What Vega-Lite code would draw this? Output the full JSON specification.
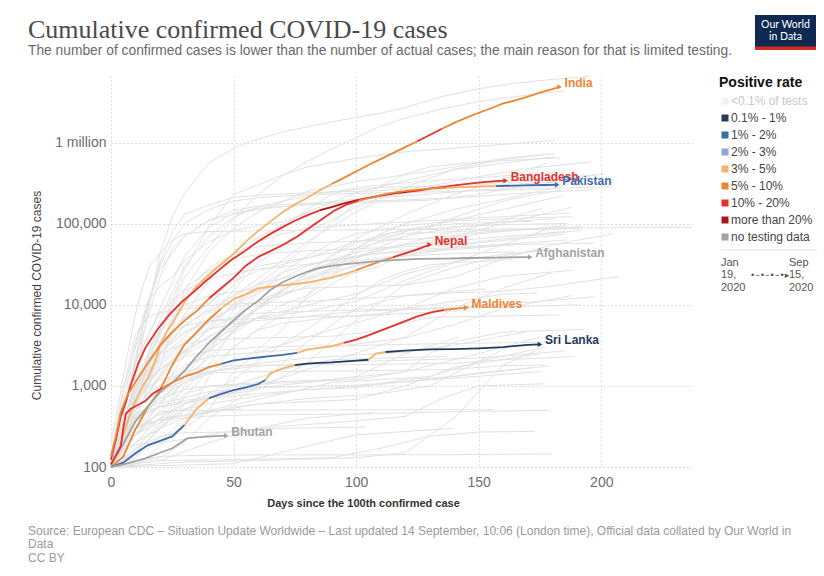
{
"$schema":"https://vega.github.io/schema/vega-lite/v6.json",
"width":581,"height":391,
"autosize":{"type":"none"},
"padding":{"left":111,"top":76,"right":132,"bottom":109},
"background":"white",
"config":{
 "font":"Liberation Sans",
 "view":{"stroke":null},
 "axis":{"domain":false,"ticks":false,"grid":true,"gridColor":"#d2d2d2","gridDash":[1.5,2.5],"gridWidth":1,"labelFont":"Liberation Sans","labelFontSize":14,"labelColor":"#6e6e6e","titleFont":"Liberation Sans"},
 "legend":{"orient":"right","offset":25,"padding":0,"titleFont":"Liberation Sans","titleFontSize":14,"titleFontWeight":"bold","titleColor":"#111","titlePadding":5,"labelFont":"Liberation Sans","labelFontSize":12,"labelColor":"#444","symbolType":"square","symbolSize":49,"rowPadding":5,"labelOffset":0}
},
"datasets":{
"bg":[
{"s":"US","d":0,"v":100},{"s":"US","d":5,"v":220},{"s":"US","d":10,"v":1300},{"s":"US","d":15,"v":8000},{"s":"US","d":20,"v":43000},{"s":"US","d":25,"v":120000},{"s":"US","d":30,"v":240000},{"s":"US","d":40,"v":560000},{"s":"US","d":50,"v":850000},{"s":"US","d":57,"v":1040000},{"s":"US","d":70,"v":1350000},{"s":"US","d":90,"v":1800000},{"s":"US","d":110,"v":2300000},{"s":"US","d":120,"v":2700000},{"s":"US","d":135,"v":3700000},{"s":"US","d":150,"v":4600000},{"s":"US","d":165,"v":5400000},{"s":"US","d":180,"v":6000000},{"s":"US","d":195,"v":6550000},
{"s":"BR","d":0,"v":100},{"s":"BR","d":10,"v":900},{"s":"BR","d":20,"v":4300},{"s":"BR","d":30,"v":22000},{"s":"BR","d":40,"v":52000},{"s":"BR","d":50,"v":115000},{"s":"BR","d":60,"v":230000},{"s":"BR","d":70,"v":390000},{"s":"BR","d":80,"v":580000},{"s":"BR","d":90,"v":830000},{"s":"BR","d":100,"v":1150000},{"s":"BR","d":110,"v":1600000},{"s":"BR","d":120,"v":2000000},{"s":"BR","d":135,"v":2600000},{"s":"BR","d":150,"v":3200000},{"s":"BR","d":165,"v":3700000},{"s":"BR","d":185,"v":4330000},
{"s":"RU","d":0,"v":100},{"s":"RU","d":10,"v":660},{"s":"RU","d":20,"v":4700},{"s":"RU","d":30,"v":27000},{"s":"RU","d":40,"v":93000},{"s":"RU","d":50,"v":230000},{"s":"RU","d":60,"v":300000},{"s":"RU","d":70,"v":400000},{"s":"RU","d":80,"v":500000},{"s":"RU","d":100,"v":640000},{"s":"RU","d":120,"v":770000},{"s":"RU","d":150,"v":900000},{"s":"RU","d":181,"v":1060000},
{"s":"PE","d":0,"v":100},{"s":"PE","d":10,"v":580},{"s":"PE","d":20,"v":1700},{"s":"PE","d":30,"v":15000},{"s":"PE","d":40,"v":45000},{"s":"PE","d":50,"v":88000},{"s":"PE","d":60,"v":140000},{"s":"PE","d":80,"v":250000},{"s":"PE","d":100,"v":330000},{"s":"PE","d":120,"v":400000},{"s":"PE","d":140,"v":500000},{"s":"PE","d":160,"v":640000},{"s":"PE","d":181,"v":730000},
{"s":"CO","d":0,"v":100},{"s":"CO","d":10,"v":700},{"s":"CO","d":20,"v":2200},{"s":"CO","d":30,"v":4000},{"s":"CO","d":40,"v":8000},{"s":"CO","d":60,"v":21000},{"s":"CO","d":80,"v":60000},{"s":"CO","d":100,"v":140000},{"s":"CO","d":120,"v":280000},{"s":"CO","d":140,"v":470000},{"s":"CO","d":160,"v":620000},{"s":"CO","d":179,"v":720000},
{"s":"MX","d":0,"v":100},{"s":"MX","d":10,"v":580},{"s":"MX","d":20,"v":2400},{"s":"MX","d":30,"v":7500},{"s":"MX","d":40,"v":20000},{"s":"MX","d":50,"v":45000},{"s":"MX","d":60,"v":68000},{"s":"MX","d":80,"v":140000},{"s":"MX","d":100,"v":240000},{"s":"MX","d":120,"v":340000},{"s":"MX","d":140,"v":460000},{"s":"MX","d":160,"v":560000},{"s":"MX","d":181,"v":670000},
{"s":"ZA","d":0,"v":100},{"s":"ZA","d":10,"v":900},{"s":"ZA","d":20,"v":1600},{"s":"ZA","d":30,"v":2700},{"s":"ZA","d":40,"v":5000},{"s":"ZA","d":50,"v":10000},{"s":"ZA","d":60,"v":18000},{"s":"ZA","d":70,"v":30000},{"s":"ZA","d":80,"v":55000},{"s":"ZA","d":90,"v":100000},{"s":"ZA","d":100,"v":180000},{"s":"ZA","d":110,"v":290000},{"s":"ZA","d":120,"v":410000},{"s":"ZA","d":130,"v":500000},{"s":"ZA","d":140,"v":540000},{"s":"ZA","d":160,"v":600000},{"s":"ZA","d":183,"v":650000},
{"s":"ES","d":0,"v":100},{"s":"ES","d":10,"v":2300},{"s":"ES","d":15,"v":10000},{"s":"ES","d":20,"v":33000},{"s":"ES","d":25,"v":80000},{"s":"ES","d":30,"v":130000},{"s":"ES","d":40,"v":170000},{"s":"ES","d":50,"v":210000},{"s":"ES","d":60,"v":225000},{"s":"ES","d":80,"v":240000},{"s":"ES","d":110,"v":255000},{"s":"ES","d":130,"v":290000},{"s":"ES","d":150,"v":380000},{"s":"ES","d":170,"v":480000},{"s":"ES","d":196,"v":580000},
{"s":"AR","d":0,"v":100},{"s":"AR","d":10,"v":700},{"s":"AR","d":20,"v":1600},{"s":"AR","d":30,"v":2600},{"s":"AR","d":40,"v":4000},{"s":"AR","d":60,"v":9000},{"s":"AR","d":80,"v":25000},{"s":"AR","d":100,"v":65000},{"s":"AR","d":120,"v":130000},{"s":"AR","d":140,"v":230000},{"s":"AR","d":160,"v":350000},{"s":"AR","d":178,"v":560000},
{"s":"CL","d":0,"v":100},{"s":"CL","d":10,"v":1000},{"s":"CL","d":20,"v":3000},{"s":"CL","d":30,"v":6500},{"s":"CL","d":40,"v":10500},{"s":"CL","d":50,"v":17000},{"s":"CL","d":60,"v":40000},{"s":"CL","d":70,"v":90000},{"s":"CL","d":80,"v":150000},{"s":"CL","d":90,"v":230000},{"s":"CL","d":100,"v":280000},{"s":"CL","d":120,"v":320000},{"s":"CL","d":150,"v":370000},{"s":"CL","d":182,"v":430000},
{"s":"IR","d":0,"v":140},{"s":"IR","d":5,"v":600},{"s":"IR","d":10,"v":3500},{"s":"IR","d":15,"v":11000},{"s":"IR","d":20,"v":17000},{"s":"IR","d":25,"v":22000},{"s":"IR","d":30,"v":35000},{"s":"IR","d":40,"v":60000},{"s":"IR","d":50,"v":82000},{"s":"IR","d":60,"v":95000},{"s":"IR","d":70,"v":105000},{"s":"IR","d":80,"v":135000},{"s":"IR","d":90,"v":165000},{"s":"IR","d":100,"v":190000},{"s":"IR","d":120,"v":240000},{"s":"IR","d":140,"v":280000},{"s":"IR","d":160,"v":330000},{"s":"IR","d":180,"v":370000},{"s":"IR","d":201,"v":405000},
{"s":"GB","d":0,"v":100},{"s":"GB","d":10,"v":800},{"s":"GB","d":20,"v":6600},{"s":"GB","d":30,"v":30000},{"s":"GB","d":40,"v":70000},{"s":"GB","d":50,"v":120000},{"s":"GB","d":60,"v":160000},{"s":"GB","d":70,"v":190000},{"s":"GB","d":90,"v":250000},{"s":"GB","d":110,"v":280000},{"s":"GB","d":130,"v":290000},{"s":"GB","d":150,"v":310000},{"s":"GB","d":170,"v":330000},{"s":"GB","d":193,"v":370000},
{"s":"SA","d":0,"v":100},{"s":"SA","d":10,"v":600},{"s":"SA","d":20,"v":1800},{"s":"SA","d":30,"v":3300},{"s":"SA","d":40,"v":7000},{"s":"SA","d":50,"v":15000},{"s":"SA","d":60,"v":33000},{"s":"SA","d":70,"v":52000},{"s":"SA","d":80,"v":80000},{"s":"SA","d":90,"v":110000},{"s":"SA","d":100,"v":160000},{"s":"SA","d":110,"v":210000},{"s":"SA","d":130,"v":260000},{"s":"SA","d":150,"v":295000},{"s":"SA","d":183,"v":325000},
{"s":"FR","d":0,"v":100},{"s":"FR","d":10,"v":1800},{"s":"FR","d":20,"v":9000},{"s":"FR","d":30,"v":40000},{"s":"FR","d":40,"v":90000},{"s":"FR","d":50,"v":135000},{"s":"FR","d":60,"v":155000},{"s":"FR","d":80,"v":170000},{"s":"FR","d":100,"v":180000},{"s":"FR","d":130,"v":195000},{"s":"FR","d":150,"v":230000},{"s":"FR","d":170,"v":300000},{"s":"FR","d":198,"v":400000},
{"s":"TR","d":0,"v":100},{"s":"TR","d":10,"v":2000},{"s":"TR","d":15,"v":10000},{"s":"TR","d":20,"v":27000},{"s":"TR","d":30,"v":70000},{"s":"TR","d":40,"v":110000},{"s":"TR","d":50,"v":130000},{"s":"TR","d":60,"v":150000},{"s":"TR","d":80,"v":175000},{"s":"TR","d":100,"v":200000},{"s":"TR","d":120,"v":220000},{"s":"TR","d":150,"v":260000},{"s":"TR","d":180,"v":290000},
{"s":"IT","d":0,"v":150},{"s":"IT","d":5,"v":900},{"s":"IT","d":10,"v":3000},{"s":"IT","d":15,"v":10000},{"s":"IT","d":20,"v":30000},{"s":"IT","d":25,"v":60000},{"s":"IT","d":30,"v":100000},{"s":"IT","d":40,"v":150000},{"s":"IT","d":50,"v":190000},{"s":"IT","d":60,"v":210000},{"s":"IT","d":80,"v":228000},{"s":"IT","d":110,"v":240000},{"s":"IT","d":140,"v":250000},{"s":"IT","d":170,"v":265000},{"s":"IT","d":204,"v":287000},
{"s":"DE","d":0,"v":130},{"s":"DE","d":10,"v":2000},{"s":"DE","d":15,"v":7000},{"s":"DE","d":20,"v":22000},{"s":"DE","d":25,"v":50000},{"s":"DE","d":30,"v":70000},{"s":"DE","d":40,"v":110000},{"s":"DE","d":50,"v":145000},{"s":"DE","d":60,"v":165000},{"s":"DE","d":80,"v":178000},{"s":"DE","d":110,"v":192000},{"s":"DE","d":140,"v":208000},{"s":"DE","d":170,"v":240000},{"s":"DE","d":197,"v":262000},
{"s":"IQ","d":0,"v":100},{"s":"IQ","d":10,"v":250},{"s":"IQ","d":20,"v":600},{"s":"IQ","d":30,"v":1100},{"s":"IQ","d":40,"v":1400},{"s":"IQ","d":50,"v":1900},{"s":"IQ","d":60,"v":2800},{"s":"IQ","d":70,"v":5000},{"s":"IQ","d":80,"v":13000},{"s":"IQ","d":90,"v":30000},{"s":"IQ","d":100,"v":50000},{"s":"IQ","d":110,"v":75000},{"s":"IQ","d":120,"v":100000},{"s":"IQ","d":140,"v":150000},{"s":"IQ","d":160,"v":200000},{"s":"IQ","d":184,"v":290000},
{"s":"PH","d":0,"v":100},{"s":"PH","d":10,"v":380},{"s":"PH","d":20,"v":2600},{"s":"PH","d":30,"v":4600},{"s":"PH","d":40,"v":6600},{"s":"PH","d":50,"v":9000},{"s":"PH","d":60,"v":11000},{"s":"PH","d":70,"v":13000},{"s":"PH","d":80,"v":20000},{"s":"PH","d":90,"v":27000},{"s":"PH","d":100,"v":37000},{"s":"PH","d":110,"v":52000},{"s":"PH","d":120,"v":70000},{"s":"PH","d":130,"v":90000},{"s":"PH","d":140,"v":120000},{"s":"PH","d":150,"v":150000},{"s":"PH","d":160,"v":190000},{"s":"PH","d":170,"v":220000},{"s":"PH","d":184,"v":260000},
{"s":"ID","d":0,"v":100},{"s":"ID","d":10,"v":450},{"s":"ID","d":20,"v":1300},{"s":"ID","d":30,"v":3300},{"s":"ID","d":40,"v":6000},{"s":"ID","d":50,"v":9500},{"s":"ID","d":60,"v":14000},{"s":"ID","d":70,"v":19000},{"s":"ID","d":80,"v":26000},{"s":"ID","d":90,"v":33000},{"s":"ID","d":100,"v":45000},{"s":"ID","d":110,"v":62000},{"s":"ID","d":120,"v":80000},{"s":"ID","d":140,"v":110000},{"s":"ID","d":160,"v":150000},{"s":"ID","d":184,"v":220000},
{"s":"CA","d":0,"v":100},{"s":"CA","d":10,"v":900},{"s":"CA","d":20,"v":5000},{"s":"CA","d":30,"v":12000},{"s":"CA","d":40,"v":25000},{"s":"CA","d":50,"v":42000},{"s":"CA","d":60,"v":60000},{"s":"CA","d":70,"v":75000},{"s":"CA","d":80,"v":88000},{"s":"CA","d":100,"v":97000},{"s":"CA","d":120,"v":105000},{"s":"CA","d":150,"v":118000},{"s":"CA","d":187,"v":135000},
{"s":"QA","d":0,"v":100},{"s":"QA","d":10,"v":450},{"s":"QA","d":20,"v":630},{"s":"QA","d":30,"v":1300},{"s":"QA","d":40,"v":3000},{"s":"QA","d":50,"v":7000},{"s":"QA","d":60,"v":14000},{"s":"QA","d":70,"v":25000},{"s":"QA","d":80,"v":40000},{"s":"QA","d":90,"v":58000},{"s":"QA","d":100,"v":75000},{"s":"QA","d":120,"v":95000},{"s":"QA","d":140,"v":108000},{"s":"QA","d":160,"v":115000},{"s":"QA","d":188,"v":122000},
{"s":"EG","d":0,"v":100},{"s":"EG","d":10,"v":400},{"s":"EG","d":20,"v":800},{"s":"EG","d":30,"v":1700},{"s":"EG","d":40,"v":2700},{"s":"EG","d":50,"v":4800},{"s":"EG","d":60,"v":9000},{"s":"EG","d":70,"v":15000},{"s":"EG","d":80,"v":25000},{"s":"EG","d":90,"v":40000},{"s":"EG","d":100,"v":58000},{"s":"EG","d":110,"v":73000},{"s":"EG","d":120,"v":82000},{"s":"EG","d":140,"v":92000},{"s":"EG","d":160,"v":97000},{"s":"EG","d":186,"v":101000},
{"s":"CN","d":0,"v":200},{"s":"CN","d":3,"v":570},{"s":"CN","d":5,"v":1300},{"s":"CN","d":7,"v":2700},{"s":"CN","d":10,"v":7700},{"s":"CN","d":13,"v":17000},{"s":"CN","d":16,"v":31000},{"s":"CN","d":20,"v":43000},{"s":"CN","d":25,"v":63000},{"s":"CN","d":30,"v":75000},{"s":"CN","d":35,"v":78000},{"s":"CN","d":40,"v":80000},{"s":"CN","d":50,"v":81000},{"s":"CN","d":60,"v":81500},{"s":"CN","d":80,"v":82800},{"s":"CN","d":100,"v":84000},{"s":"CN","d":120,"v":84500},{"s":"CN","d":150,"v":85500},{"s":"CN","d":180,"v":87500},{"s":"CN","d":210,"v":89500},{"s":"CN","d":237,"v":90000},
{"s":"JP","d":0,"v":105},{"s":"JP","d":10,"v":250},{"s":"JP","d":20,"v":500},{"s":"JP","d":30,"v":900},{"s":"JP","d":40,"v":1800},{"s":"JP","d":50,"v":5000},{"s":"JP","d":60,"v":10000},{"s":"JP","d":70,"v":14000},{"s":"JP","d":80,"v":16000},{"s":"JP","d":100,"v":16800},{"s":"JP","d":120,"v":17500},{"s":"JP","d":140,"v":22000},{"s":"JP","d":160,"v":37000},{"s":"JP","d":180,"v":55000},{"s":"JP","d":205,"v":75000},
{"s":"KR","d":0,"v":100},{"s":"KR","d":5,"v":900},{"s":"KR","d":10,"v":4300},{"s":"KR","d":15,"v":7000},{"s":"KR","d":20,"v":8000},{"s":"KR","d":30,"v":8900},{"s":"KR","d":40,"v":9800},{"s":"KR","d":60,"v":10600},{"s":"KR","d":80,"v":11000},{"s":"KR","d":100,"v":11900},{"s":"KR","d":120,"v":12900},{"s":"KR","d":140,"v":14000},{"s":"KR","d":160,"v":14700},{"s":"KR","d":180,"v":17000},{"s":"KR","d":207,"v":22300},
{"s":"SG","d":0,"v":100},{"s":"SG","d":10,"v":170},{"s":"SG","d":20,"v":350},{"s":"SG","d":30,"v":1000},{"s":"SG","d":40,"v":2500},{"s":"SG","d":50,"v":9000},{"s":"SG","d":60,"v":17000},{"s":"SG","d":70,"v":25000},{"s":"SG","d":80,"v":31000},{"s":"SG","d":90,"v":35000},{"s":"SG","d":100,"v":39000},{"s":"SG","d":110,"v":43000},{"s":"SG","d":130,"v":47000},{"s":"SG","d":160,"v":55000},{"s":"SG","d":197,"v":57400},
{"s":"MY","d":0,"v":100},{"s":"MY","d":10,"v":700},{"s":"MY","d":20,"v":2000},{"s":"MY","d":30,"v":3500},{"s":"MY","d":40,"v":5000},{"s":"MY","d":50,"v":5800},{"s":"MY","d":60,"v":6400},{"s":"MY","d":80,"v":7200},{"s":"MY","d":100,"v":8300},{"s":"MY","d":120,"v":8700},{"s":"MY","d":150,"v":9200},{"s":"MY","d":191,"v":10000},
{"s":"AU","d":0,"v":100},{"s":"AU","d":10,"v":700},{"s":"AU","d":20,"v":3600},{"s":"AU","d":30,"v":5500},{"s":"AU","d":40,"v":6300},{"s":"AU","d":60,"v":6800},{"s":"AU","d":80,"v":7100},{"s":"AU","d":100,"v":7300},{"s":"AU","d":110,"v":7800},{"s":"AU","d":120,"v":9000},{"s":"AU","d":130,"v":12000},{"s":"AU","d":140,"v":16000},{"s":"AU","d":150,"v":19000},{"s":"AU","d":160,"v":22500},{"s":"AU","d":188,"v":26600},
{"s":"TH","d":0,"v":114},{"s":"TH","d":10,"v":700},{"s":"TH","d":20,"v":1600},{"s":"TH","d":30,"v":2300},{"s":"TH","d":40,"v":2700},{"s":"TH","d":60,"v":3000},{"s":"TH","d":80,"v":3100},{"s":"TH","d":100,"v":3150},{"s":"TH","d":130,"v":3300},{"s":"TH","d":160,"v":3400},{"s":"TH","d":183,"v":3480},
{"s":"VN","d":0,"v":100},{"s":"VN","d":10,"v":170},{"s":"VN","d":20,"v":240},{"s":"VN","d":30,"v":265},{"s":"VN","d":50,"v":270},{"s":"VN","d":70,"v":320},{"s":"VN","d":90,"v":350},{"s":"VN","d":120,"v":420},{"s":"VN","d":135,"v":700},{"s":"VN","d":150,"v":1000},{"s":"VN","d":177,"v":1060},
{"s":"NZ","d":0,"v":100},{"s":"NZ","d":5,"v":280},{"s":"NZ","d":10,"v":600},{"s":"NZ","d":15,"v":950},{"s":"NZ","d":20,"v":1200},{"s":"NZ","d":30,"v":1400},{"s":"NZ","d":40,"v":1450},{"s":"NZ","d":60,"v":1500},{"s":"NZ","d":100,"v":1530},{"s":"NZ","d":140,"v":1600},{"s":"NZ","d":160,"v":1780},{"s":"NZ","d":177,"v":1800},
{"s":"TW","d":0,"v":100},{"s":"TW","d":5,"v":200},{"s":"TW","d":10,"v":300},{"s":"TW","d":15,"v":350},{"s":"TW","d":20,"v":380},{"s":"TW","d":30,"v":400},{"s":"TW","d":40,"v":425},{"s":"TW","d":60,"v":440},{"s":"TW","d":100,"v":450},{"s":"TW","d":140,"v":480},{"s":"TW","d":179,"v":500},
{"s":"MN","d":0,"v":100},{"s":"MN","d":5,"v":180},{"s":"MN","d":10,"v":190},{"s":"MN","d":20,"v":200},{"s":"MN","d":30,"v":220},{"s":"MN","d":50,"v":280},{"s":"MN","d":70,"v":300},{"s":"MN","d":104,"v":311},
{"s":"KH","d":0,"v":100},{"s":"KH","d":10,"v":110},{"s":"KH","d":20,"v":120},{"s":"KH","d":40,"v":122},{"s":"KH","d":60,"v":125},{"s":"KH","d":90,"v":130},{"s":"KH","d":110,"v":170},{"s":"KH","d":130,"v":240},{"s":"KH","d":150,"v":270},{"s":"KH","d":173,"v":275},
{"s":"PG","d":0,"v":100},{"s":"PG","d":10,"v":200},{"s":"PG","d":20,"v":300},{"s":"PG","d":30,"v":400},{"s":"PG","d":40,"v":480},{"s":"PG","d":53,"v":520},
{"s":"UG","d":0,"v":100},{"s":"UG","d":10,"v":150},{"s":"UG","d":20,"v":300},{"s":"UG","d":30,"v":600},{"s":"UG","d":40,"v":800},{"s":"UG","d":60,"v":950},{"s":"UG","d":80,"v":1100},{"s":"UG","d":100,"v":1300},{"s":"UG","d":120,"v":2500},{"s":"UG","d":142,"v":4000},
{"s":"KE","d":0,"v":100},{"s":"KE","d":10,"v":200},{"s":"KE","d":20,"v":300},{"s":"KE","d":30,"v":500},{"s":"KE","d":40,"v":800},{"s":"KE","d":50,"v":1200},{"s":"KE","d":60,"v":2000},{"s":"KE","d":70,"v":3300},{"s":"KE","d":80,"v":5000},{"s":"KE","d":90,"v":8000},{"s":"KE","d":100,"v":13000},{"s":"KE","d":110,"v":20000},{"s":"KE","d":120,"v":26000},{"s":"KE","d":130,"v":31000},{"s":"KE","d":140,"v":33000},{"s":"KE","d":164,"v":36000},
{"s":"NG","d":0,"v":100},{"s":"NG","d":10,"v":250},{"s":"NG","d":20,"v":600},{"s":"NG","d":30,"v":1500},{"s":"NG","d":40,"v":3000},{"s":"NG","d":50,"v":5500},{"s":"NG","d":60,"v":9000},{"s":"NG","d":70,"v":13000},{"s":"NG","d":80,"v":17000},{"s":"NG","d":90,"v":24000},{"s":"NG","d":100,"v":30000},{"s":"NG","d":110,"v":36000},{"s":"NG","d":120,"v":42000},{"s":"NG","d":140,"v":48000},{"s":"NG","d":168,"v":56000},
{"s":"GH","d":0,"v":150},{"s":"GH","d":10,"v":500},{"s":"GH","d":20,"v":1400},{"s":"GH","d":30,"v":2700},{"s":"GH","d":40,"v":5000},{"s":"GH","d":50,"v":7000},{"s":"GH","d":60,"v":11000},{"s":"GH","d":70,"v":15000},{"s":"GH","d":80,"v":22000},{"s":"GH","d":90,"v":28000},{"s":"GH","d":100,"v":35000},{"s":"GH","d":120,"v":40000},{"s":"GH","d":140,"v":43000},{"s":"GH","d":165,"v":45000},
{"s":"SN","d":0,"v":100},{"s":"SN","d":20,"v":230},{"s":"SN","d":30,"v":300},{"s":"SN","d":40,"v":500},{"s":"SN","d":50,"v":1500},{"s":"SN","d":60,"v":2600},{"s":"SN","d":80,"v":4000},{"s":"SN","d":100,"v":6000},{"s":"SN","d":120,"v":9000},{"s":"SN","d":140,"v":11000},{"s":"SN","d":160,"v":13500},{"s":"SN","d":174,"v":14000},
{"s":"TZ","d":0,"v":100},{"s":"TZ","d":10,"v":250},{"s":"TZ","d":20,"v":480},{"s":"TZ","d":30,"v":500},{"s":"TZ","d":156,"v":510},
{"s":"IS","d":0,"v":100},{"s":"IS","d":5,"v":200},{"s":"IS","d":10,"v":500},{"s":"IS","d":20,"v":1000},{"s":"IS","d":30,"v":1500},{"s":"IS","d":40,"v":1750},{"s":"IS","d":60,"v":1800},{"s":"IS","d":100,"v":1830},{"s":"IS","d":140,"v":1900},{"s":"IS","d":160,"v":2100},{"s":"IS","d":189,"v":2300},
{"s":"LU","d":0,"v":100},{"s":"LU","d":10,"v":1000},{"s":"LU","d":20,"v":2500},{"s":"LU","d":30,"v":3300},{"s":"LU","d":40,"v":3700},{"s":"LU","d":60,"v":3900},{"s":"LU","d":90,"v":4100},{"s":"LU","d":110,"v":4800},{"s":"LU","d":120,"v":6000},{"s":"LU","d":130,"v":7000},{"s":"LU","d":183,"v":7500},
{"s":"EE","d":0,"v":100},{"s":"EE","d":10,"v":350},{"s":"EE","d":20,"v":700},{"s":"EE","d":30,"v":1100},{"s":"EE","d":40,"v":1500},{"s":"EE","d":60,"v":1750},{"s":"EE","d":100,"v":2000},{"s":"EE","d":150,"v":2200},{"s":"EE","d":185,"v":2700},
{"s":"JM","d":0,"v":100},{"s":"JM","d":20,"v":200},{"s":"JM","d":30,"v":400},{"s":"JM","d":50,"v":550},{"s":"JM","d":80,"v":700},{"s":"JM","d":110,"v":800},{"s":"JM","d":130,"v":1000},{"s":"JM","d":150,"v":2000},{"s":"JM","d":162,"v":3000},
{"s":"MG","d":0,"v":100},{"s":"MG","d":20,"v":130},{"s":"MG","d":30,"v":200},{"s":"MG","d":40,"v":400},{"s":"MG","d":60,"v":1000},{"s":"MG","d":80,"v":3500},{"s":"MG","d":100,"v":9000},{"s":"MG","d":120,"v":13000},{"s":"MG","d":153,"v":15700},
{"s":"BI","d":0,"v":100},{"s":"BI","d":20,"v":120},{"s":"BI","d":40,"v":200},{"s":"BI","d":60,"v":300},{"s":"BI","d":80,"v":400},{"s":"BI","d":107,"v":470},
{"s":"BJ","d":0,"v":100},{"s":"BJ","d":10,"v":250},{"s":"BJ","d":30,"v":500},{"s":"BJ","d":50,"v":1000},{"s":"BJ","d":70,"v":1600},{"s":"BJ","d":90,"v":2100},{"s":"BJ","d":110,"v":2200},{"s":"BJ","d":137,"v":2300},
{"s":"TT","d":0,"v":100},{"s":"TT","d":30,"v":115},{"s":"TT","d":60,"v":120},{"s":"TT","d":100,"v":130},{"s":"TT","d":120,"v":150},{"s":"TT","d":140,"v":400},{"s":"TT","d":160,"v":1800},{"s":"TT","d":173,"v":2700},
{"s":"BN","d":0,"v":100},{"s":"BN","d":10,"v":120},{"s":"BN","d":20,"v":135},{"s":"BN","d":30,"v":138},{"s":"BN","d":60,"v":141},{"s":"BN","d":100,"v":141},{"s":"BN","d":140,"v":142},{"s":"BN","d":180,"v":145},
{"s":"ER","d":0,"v":100},{"s":"ER","d":50,"v":110},{"s":"ER","d":100,"v":250},{"s":"ER","d":140,"v":300},
{"s":"CU","d":0,"v":100},{"s":"CU","d":10,"v":400},{"s":"CU","d":20,"v":800},{"s":"CU","d":30,"v":1200},{"s":"CU","d":40,"v":1500},{"s":"CU","d":60,"v":1900},{"s":"CU","d":80,"v":2200},{"s":"CU","d":100,"v":2400},{"s":"CU","d":120,"v":2600},{"s":"CU","d":140,"v":3200},{"s":"CU","d":169,"v":4600},
{"s":"UY","d":0,"v":100},{"s":"UY","d":10,"v":300},{"s":"UY","d":20,"v":450},{"s":"UY","d":40,"v":600},{"s":"UY","d":60,"v":750},{"s":"UY","d":80,"v":900},{"s":"UY","d":100,"v":980},{"s":"UY","d":130,"v":1200},{"s":"UY","d":150,"v":1450},{"s":"UY","d":179,"v":1750},
{"s":"NO","d":0,"v":100},{"s":"NO","d":10,"v":1200},{"s":"NO","d":20,"v":2600},{"s":"NO","d":30,"v":4500},{"s":"NO","d":40,"v":6200},{"s":"NO","d":60,"v":7900},{"s":"NO","d":90,"v":8500},{"s":"NO","d":120,"v":8900},{"s":"NO","d":150,"v":9600},{"s":"NO","d":197,"v":12500},
{"s":"GR","d":0,"v":100},{"s":"GR","d":10,"v":500},{"s":"GR","d":20,"v":1000},{"s":"GR","d":30,"v":1800},{"s":"GR","d":40,"v":2300},{"s":"GR","d":60,"v":2600},{"s":"GR","d":90,"v":3000},{"s":"GR","d":120,"v":3900},{"s":"GR","d":140,"v":5700},{"s":"GR","d":160,"v":9000},{"s":"GR","d":188,"v":13000},
{"s":"IL","d":0,"v":100},{"s":"IL","d":10,"v":700},{"s":"IL","d":20,"v":4600},{"s":"IL","d":30,"v":9900},{"s":"IL","d":40,"v":13000},{"s":"IL","d":60,"v":16000},{"s":"IL","d":90,"v":21000},{"s":"IL","d":110,"v":30000},{"s":"IL","d":120,"v":45000},{"s":"IL","d":140,"v":70000},{"s":"IL","d":160,"v":100000},{"s":"IL","d":188,"v":160000},
{"s":"EC","d":0,"v":100},{"s":"EC","d":10,"v":1000},{"s":"EC","d":20,"v":3300},{"s":"EC","d":30,"v":7000},{"s":"EC","d":40,"v":10000},{"s":"EC","d":50,"v":22000},{"s":"EC","d":60,"v":30000},{"s":"EC","d":80,"v":38000},{"s":"EC","d":100,"v":50000},{"s":"EC","d":120,"v":70000},{"s":"EC","d":140,"v":90000},{"s":"EC","d":160,"v":105000},{"s":"EC","d":181,"v":115000},
{"s":"KZ","d":0,"v":100},{"s":"KZ","d":10,"v":400},{"s":"KZ","d":20,"v":800},{"s":"KZ","d":30,"v":1600},{"s":"KZ","d":40,"v":2800},{"s":"KZ","d":50,"v":4500},{"s":"KZ","d":60,"v":7000},{"s":"KZ","d":70,"v":10000},{"s":"KZ","d":80,"v":13000},{"s":"KZ","d":90,"v":22000},{"s":"KZ","d":100,"v":50000},{"s":"KZ","d":110,"v":70000},{"s":"KZ","d":120,"v":85000},{"s":"KZ","d":140,"v":100000},{"s":"KZ","d":172,"v":107000},
{"s":"BE","d":0,"v":100},{"s":"BE","d":10,"v":900},{"s":"BE","d":20,"v":3400},{"s":"BE","d":30,"v":13000},{"s":"BE","d":40,"v":29000},{"s":"BE","d":50,"v":42000},{"s":"BE","d":60,"v":52000},{"s":"BE","d":80,"v":58000},{"s":"BE","d":100,"v":61000},{"s":"BE","d":130,"v":66000},{"s":"BE","d":150,"v":78000},{"s":"BE","d":170,"v":85000},{"s":"BE","d":192,"v":92000},
{"s":"NL","d":0,"v":100},{"s":"NL","d":10,"v":1100},{"s":"NL","d":20,"v":5500},{"s":"NL","d":30,"v":15800},{"s":"NL","d":40,"v":26500},{"s":"NL","d":50,"v":36500},{"s":"NL","d":60,"v":42000},{"s":"NL","d":80,"v":46500},{"s":"NL","d":110,"v":50500},{"s":"NL","d":140,"v":55000},{"s":"NL","d":160,"v":65000},{"s":"NL","d":192,"v":83000},
{"s":"SE","d":0,"v":100},{"s":"SE","d":10,"v":1100},{"s":"SE","d":20,"v":2800},{"s":"SE","d":30,"v":6800},{"s":"SE","d":40,"v":12500},{"s":"SE","d":50,"v":19600},{"s":"SE","d":60,"v":26300},{"s":"SE","d":80,"v":37500},{"s":"SE","d":100,"v":60000},{"s":"SE","d":120,"v":76000},{"s":"SE","d":150,"v":82000},{"s":"SE","d":191,"v":87000},
{"s":"PT","d":0,"v":100},{"s":"PT","d":10,"v":2000},{"s":"PT","d":20,"v":8200},{"s":"PT","d":30,"v":15000},{"s":"PT","d":40,"v":20800},{"s":"PT","d":50,"v":24300},{"s":"PT","d":60,"v":27600},{"s":"PT","d":80,"v":31500},{"s":"PT","d":100,"v":40000},{"s":"PT","d":120,"v":47000},{"s":"PT","d":150,"v":53000},{"s":"PT","d":186,"v":63000},
{"s":"PL","d":0,"v":100},{"s":"PL","d":10,"v":900},{"s":"PL","d":20,"v":2500},{"s":"PL","d":30,"v":5600},{"s":"PL","d":40,"v":8400},{"s":"PL","d":50,"v":11600},{"s":"PL","d":60,"v":15000},{"s":"PL","d":80,"v":21000},{"s":"PL","d":100,"v":31000},{"s":"PL","d":120,"v":40000},{"s":"PL","d":150,"v":58000},{"s":"PL","d":185,"v":74000},
{"s":"UA","d":0,"v":100},{"s":"UA","d":10,"v":800},{"s":"UA","d":20,"v":2500},{"s":"UA","d":30,"v":5400},{"s":"UA","d":40,"v":9000},{"s":"UA","d":50,"v":13000},{"s":"UA","d":60,"v":18000},{"s":"UA","d":80,"v":25000},{"s":"UA","d":100,"v":38000},{"s":"UA","d":120,"v":57000},{"s":"UA","d":140,"v":80000},{"s":"UA","d":160,"v":110000},{"s":"UA","d":176,"v":156000},
{"s":"MA","d":0,"v":100},{"s":"MA","d":10,"v":700},{"s":"MA","d":20,"v":1600},{"s":"MA","d":30,"v":2600},{"s":"MA","d":40,"v":4100},{"s":"MA","d":60,"v":6900},{"s":"MA","d":80,"v":8300},{"s":"MA","d":100,"v":11000},{"s":"MA","d":120,"v":20000},{"s":"MA","d":140,"v":33000},{"s":"MA","d":160,"v":55000},{"s":"MA","d":179,"v":88000},
{"s":"DZ","d":0,"v":100},{"s":"DZ","d":10,"v":500},{"s":"DZ","d":20,"v":1300},{"s":"DZ","d":30,"v":2400},{"s":"DZ","d":40,"v":3500},{"s":"DZ","d":50,"v":5000},{"s":"DZ","d":60,"v":7000},{"s":"DZ","d":80,"v":9900},{"s":"DZ","d":100,"v":13600},{"s":"DZ","d":120,"v":24000},{"s":"DZ","d":140,"v":34000},{"s":"DZ","d":160,"v":42000},{"s":"DZ","d":181,"v":48000},
{"s":"ET","d":0,"v":100},{"s":"ET","d":10,"v":160},{"s":"ET","d":20,"v":290},{"s":"ET","d":30,"v":730},{"s":"ET","d":40,"v":1600},{"s":"ET","d":50,"v":3000},{"s":"ET","d":60,"v":5000},{"s":"ET","d":70,"v":7500},{"s":"ET","d":80,"v":12000},{"s":"ET","d":90,"v":18000},{"s":"ET","d":100,"v":26000},{"s":"ET","d":110,"v":35000},{"s":"ET","d":120,"v":45000},{"s":"ET","d":139,"v":64000},
{"s":"HT","d":0,"v":100},{"s":"HT","d":10,"v":100},{"s":"HT","d":20,"v":180},{"s":"HT","d":30,"v":360},{"s":"HT","d":40,"v":1300},{"s":"HT","d":50,"v":3000},{"s":"HT","d":60,"v":4900},{"s":"HT","d":70,"v":5900},{"s":"HT","d":90,"v":7000},{"s":"HT","d":120,"v":7800},{"s":"HT","d":147,"v":8600},
{"s":"CR","d":0,"v":100},{"s":"CR","d":10,"v":420},{"s":"CR","d":20,"v":560},{"s":"CR","d":30,"v":660},{"s":"CR","d":40,"v":720},{"s":"CR","d":60,"v":900},{"s":"CR","d":80,"v":1900},{"s":"CR","d":100,"v":6500},{"s":"CR","d":120,"v":18000},{"s":"CR","d":140,"v":29000},{"s":"CR","d":160,"v":40000},{"s":"CR","d":179,"v":50000},
{"s":"AE","d":0,"v":100},{"s":"AE","d":10,"v":300},{"s":"AE","d":20,"v":800},{"s":"AE","d":30,"v":2400},{"s":"AE","d":40,"v":5400},{"s":"AE","d":50,"v":10300},{"s":"AE","d":60,"v":15200},{"s":"AE","d":80,"v":30000},{"s":"AE","d":100,"v":44000},{"s":"AE","d":120,"v":55000},{"s":"AE","d":150,"v":65000},{"s":"AE","d":185,"v":80000},
{"s":"KW","d":0,"v":100},{"s":"KW","d":10,"v":250},{"s":"KW","d":20,"v":400},{"s":"KW","d":30,"v":1300},{"s":"KW","d":40,"v":2200},{"s":"KW","d":50,"v":4600},{"s":"KW","d":60,"v":9300},{"s":"KW","d":70,"v":16000},{"s":"KW","d":80,"v":24000},{"s":"KW","d":90,"v":32000},{"s":"KW","d":100,"v":40000},{"s":"KW","d":120,"v":55000},{"s":"KW","d":150,"v":75000},{"s":"KW","d":186,"v":95000},
{"s":"MT","d":0,"v":100},{"s":"MT","d":10,"v":250},{"s":"MT","d":20,"v":400},{"s":"MT","d":40,"v":470},{"s":"MT","d":60,"v":600},{"s":"MT","d":100,"v":680},{"s":"MT","d":120,"v":1000},{"s":"MT","d":140,"v":1700},{"s":"MT","d":175,"v":2500},
{"s":"CY","d":0,"v":100},{"s":"CY","d":10,"v":300},{"s":"CY","d":20,"v":600},{"s":"CY","d":40,"v":850},{"s":"CY","d":60,"v":950},{"s":"CY","d":100,"v":1020},{"s":"CY","d":140,"v":1250},{"s":"CY","d":175,"v":1500},
{"s":"GE","d":0,"v":100},{"s":"GE","d":10,"v":200},{"s":"GE","d":20,"v":400},{"s":"GE","d":30,"v":600},{"s":"GE","d":40,"v":700},{"s":"GE","d":60,"v":800},{"s":"GE","d":80,"v":900},{"s":"GE","d":100,"v":950},{"s":"GE","d":120,"v":1200},{"s":"GE","d":140,"v":1300},{"s":"GE","d":173,"v":1700},
{"s":"JO","d":0,"v":100},{"s":"JO","d":10,"v":300},{"s":"JO","d":20,"v":380},{"s":"JO","d":30,"v":430},{"s":"JO","d":50,"v":580},{"s":"JO","d":70,"v":800},{"s":"JO","d":90,"v":1100},{"s":"JO","d":110,"v":1200},{"s":"JO","d":130,"v":1300},{"s":"JO","d":150,"v":2000},{"s":"JO","d":177,"v":3000},
{"s":"TN","d":0,"v":100},{"s":"TN","d":10,"v":400},{"s":"TN","d":20,"v":700},{"s":"TN","d":30,"v":900},{"s":"TN","d":40,"v":1000},{"s":"TN","d":60,"v":1100},{"s":"TN","d":90,"v":1200},{"s":"TN","d":120,"v":1500},{"s":"TN","d":150,"v":2500},{"s":"TN","d":175,"v":4000},
{"s":"LB","d":0,"v":100},{"s":"LB","d":10,"v":400},{"s":"LB","d":20,"v":550},{"s":"LB","d":40,"v":700},{"s":"LB","d":60,"v":1000},{"s":"LB","d":90,"v":2000},{"s":"LB","d":120,"v":4000},{"s":"LB","d":140,"v":9000},{"s":"LB","d":160,"v":16000},{"s":"LB","d":180,"v":25000},
{"s":"HK","d":0,"v":100},{"s":"HK","d":10,"v":130},{"s":"HK","d":20,"v":320},{"s":"HK","d":30,"v":800},{"s":"HK","d":40,"v":980},{"s":"HK","d":60,"v":1050},{"s":"HK","d":100,"v":1200},{"s":"HK","d":120,"v":1500},{"s":"HK","d":130,"v":2500},{"s":"HK","d":140,"v":3500},{"s":"HK","d":160,"v":4600},{"s":"HK","d":193,"v":4980}
],
"hl":[
{"c":"India","g":"IN1","r":"3% - 5%","d":0,"v":107},{"c":"India","g":"IN1","r":"3% - 5%","d":3,"v":150},{"c":"India","g":"IN1","r":"3% - 5%","d":5,"v":250},{"c":"India","g":"IN1","r":"3% - 5%","d":8,"v":470},{"c":"India","g":"IN1","r":"3% - 5%","d":10,"v":650},{"c":"India","g":"IN1","r":"3% - 5%","d":13,"v":1000},{"c":"India","g":"IN1","r":"3% - 5%","d":15,"v":1250},{"c":"India","g":"IN1","r":"3% - 5%","d":18,"v":2000},{"c":"India","g":"IN1","r":"3% - 5%","d":20,"v":3100},{"c":"India","g":"IN1","r":"3% - 5%","d":23,"v":4800},{"c":"India","g":"IN1","r":"3% - 5%","d":25,"v":5900},{"c":"India","g":"IN1","r":"3% - 5%","d":28,"v":8400},{"c":"India","g":"IN1","r":"3% - 5%","d":30,"v":10800},{"c":"India","g":"IN1","r":"3% - 5%","d":35,"v":17000},{"c":"India","g":"IN1","r":"3% - 5%","d":40,"v":23500},{"c":"India","g":"IN1","r":"3% - 5%","d":45,"v":31800},{"c":"India","g":"IN1","r":"3% - 5%","d":50,"v":42500},{"c":"India","g":"IN1","r":"3% - 5%","d":55,"v":60000},{"c":"India","g":"IN1","r":"3% - 5%","d":60,"v":81000},{"c":"India","g":"IN1","r":"3% - 5%","d":65,"v":106000},{"c":"India","g":"IN1","r":"3% - 5%","d":70,"v":138000},{"c":"India","g":"IN1","r":"3% - 5%","d":75,"v":173000},{"c":"India","g":"IN1","r":"3% - 5%","d":80,"v":207000},{"c":"India","g":"IN1","r":"3% - 5%","d":85,"v":257000},{"c":"India","g":"IN1","r":"3% - 5%","d":90,"v":309000},
{"c":"India","g":"IN2","r":"5% - 10%","d":90,"v":309000},{"c":"India","g":"IN2","r":"5% - 10%","d":95,"v":367000},{"c":"India","g":"IN2","r":"5% - 10%","d":100,"v":440000},{"c":"India","g":"IN2","r":"5% - 10%","d":105,"v":529000},{"c":"India","g":"IN2","r":"5% - 10%","d":110,"v":625000},{"c":"India","g":"IN2","r":"5% - 10%","d":115,"v":742000},{"c":"India","g":"IN2","r":"5% - 10%","d":120,"v":879000},{"c":"India","g":"IN2","r":"5% - 10%","d":125,"v":1038000},
{"c":"India","g":"IN3","r":"10% - 20%","d":125,"v":1038000},{"c":"India","g":"IN3","r":"10% - 20%","d":130,"v":1239000},{"c":"India","g":"IN3","r":"10% - 20%","d":135,"v":1483000},
{"c":"India","g":"IN4","r":"5% - 10%","d":135,"v":1483000},{"c":"India","g":"IN4","r":"5% - 10%","d":140,"v":1750000},{"c":"India","g":"IN4","r":"5% - 10%","d":145,"v":2027000},{"c":"India","g":"IN4","r":"5% - 10%","d":150,"v":2330000},{"c":"India","g":"IN4","r":"5% - 10%","d":155,"v":2648000},{"c":"India","g":"IN4","r":"5% - 10%","d":160,"v":3044000},{"c":"India","g":"IN4","r":"5% - 10%","d":165,"v":3310000},{"c":"India","g":"IN4","r":"5% - 10%","d":170,"v":3690000},{"c":"India","g":"IN4","r":"5% - 10%","d":175,"v":4120000},{"c":"India","g":"IN4","r":"5% - 10%","d":180,"v":4560000},{"c":"India","g":"IN4","r":"5% - 10%","d":183,"v":4850000},
{"c":"Bangladesh","g":"BD1","r":"10% - 20%","d":0,"v":123},{"c":"Bangladesh","g":"BD1","r":"10% - 20%","d":1,"v":164},{"c":"Bangladesh","g":"BD1","r":"10% - 20%","d":2,"v":218},{"c":"Bangladesh","g":"BD1","r":"10% - 20%","d":4,"v":424},{"c":"Bangladesh","g":"BD1","r":"10% - 20%","d":6,"v":621},{"c":"Bangladesh","g":"BD1","r":"10% - 20%","d":8,"v":1012},{"c":"Bangladesh","g":"BD1","r":"10% - 20%","d":11,"v":1838},{"c":"Bangladesh","g":"BD1","r":"10% - 20%","d":14,"v":2948},{"c":"Bangladesh","g":"BD1","r":"10% - 20%","d":19,"v":4998},{"c":"Bangladesh","g":"BD1","r":"10% - 20%","d":24,"v":7667},{"c":"Bangladesh","g":"BD1","r":"10% - 20%","d":29,"v":10929},{"c":"Bangladesh","g":"BD1","r":"10% - 20%","d":34,"v":14657},{"c":"Bangladesh","g":"BD1","r":"10% - 20%","d":39,"v":20065},{"c":"Bangladesh","g":"BD1","r":"10% - 20%","d":44,"v":26738},{"c":"Bangladesh","g":"BD1","r":"10% - 20%","d":49,"v":35585},{"c":"Bangladesh","g":"BD1","r":"10% - 20%","d":54,"v":44608},{"c":"Bangladesh","g":"BD1","r":"10% - 20%","d":60,"v":60391},{"c":"Bangladesh","g":"BD1","r":"10% - 20%","d":65,"v":74865},{"c":"Bangladesh","g":"BD1","r":"10% - 20%","d":70,"v":90619},{"c":"Bangladesh","g":"BD1","r":"10% - 20%","d":75,"v":108775},{"c":"Bangladesh","g":"BD1","r":"10% - 20%","d":80,"v":126606},{"c":"Bangladesh","g":"BD1","r":"10% - 20%","d":85,"v":145483},
{"c":"Bangladesh","g":"BD2","r":"more than 20%","d":85,"v":145483},{"c":"Bangladesh","g":"BD2","r":"more than 20%","d":90,"v":159679},{"c":"Bangladesh","g":"BD2","r":"more than 20%","d":95,"v":178443},{"c":"Bangladesh","g":"BD2","r":"more than 20%","d":100,"v":193590},{"c":"Bangladesh","g":"BD2","r":"more than 20%","d":105,"v":207453},{"c":"Bangladesh","g":"BD2","r":"more than 20%","d":110,"v":221178},{"c":"Bangladesh","g":"BD2","r":"more than 20%","d":116,"v":237661},{"c":"Bangladesh","g":"BD2","r":"more than 20%","d":121,"v":247000},
{"c":"Bangladesh","g":"BD3","r":"10% - 20%","d":121,"v":247000},{"c":"Bangladesh","g":"BD3","r":"10% - 20%","d":126,"v":257600},{"c":"Bangladesh","g":"BD3","r":"10% - 20%","d":131,"v":274525},{"c":"Bangladesh","g":"BD3","r":"10% - 20%","d":136,"v":285091},{"c":"Bangladesh","g":"BD3","r":"10% - 20%","d":141,"v":299628},{"c":"Bangladesh","g":"BD3","r":"10% - 20%","d":147,"v":314946},{"c":"Bangladesh","g":"BD3","r":"10% - 20%","d":152,"v":325157},{"c":"Bangladesh","g":"BD3","r":"10% - 20%","d":157,"v":334762},{"c":"Bangladesh","g":"BD3","r":"10% - 20%","d":161,"v":339000},
{"c":"Pakistan","g":"PK1","r":"5% - 10%","d":0,"v":136},{"c":"Pakistan","g":"PK1","r":"5% - 10%","d":2,"v":240},{"c":"Pakistan","g":"PK1","r":"5% - 10%","d":4,"v":478},{"c":"Pakistan","g":"PK1","r":"5% - 10%","d":7,"v":800},{"c":"Pakistan","g":"PK1","r":"5% - 10%","d":9,"v":1000},{"c":"Pakistan","g":"PK1","r":"5% - 10%","d":14,"v":1717},{"c":"Pakistan","g":"PK1","r":"5% - 10%","d":20,"v":3157},{"c":"Pakistan","g":"PK1","r":"5% - 10%","d":25,"v":4601},{"c":"Pakistan","g":"PK1","r":"5% - 10%","d":30,"v":6383},{"c":"Pakistan","g":"PK1","r":"5% - 10%","d":35,"v":8418},{"c":"Pakistan","g":"PK1","r":"5% - 10%","d":40,"v":11940},
{"c":"Pakistan","g":"PK2","r":"10% - 20%","d":40,"v":11940},{"c":"Pakistan","g":"PK2","r":"10% - 20%","d":45,"v":16117},{"c":"Pakistan","g":"PK2","r":"10% - 20%","d":50,"v":21501},{"c":"Pakistan","g":"PK2","r":"10% - 20%","d":55,"v":30334},{"c":"Pakistan","g":"PK2","r":"10% - 20%","d":60,"v":38799},{"c":"Pakistan","g":"PK2","r":"10% - 20%","d":65,"v":45898},{"c":"Pakistan","g":"PK2","r":"10% - 20%","d":70,"v":54601},{"c":"Pakistan","g":"PK2","r":"10% - 20%","d":76,"v":69496},{"c":"Pakistan","g":"PK2","r":"10% - 20%","d":81,"v":89249},{"c":"Pakistan","g":"PK2","r":"10% - 20%","d":86,"v":113702},{"c":"Pakistan","g":"PK2","r":"10% - 20%","d":91,"v":144478},{"c":"Pakistan","g":"PK2","r":"10% - 20%","d":96,"v":171666},{"c":"Pakistan","g":"PK2","r":"10% - 20%","d":101,"v":192970},
{"c":"Pakistan","g":"PK3","r":"5% - 10%","d":101,"v":192970},{"c":"Pakistan","g":"PK3","r":"5% - 10%","d":106,"v":209337},{"c":"Pakistan","g":"PK3","r":"5% - 10%","d":111,"v":228474},{"c":"Pakistan","g":"PK3","r":"5% - 10%","d":116,"v":243599},{"c":"Pakistan","g":"PK3","r":"5% - 10%","d":121,"v":255769},{"c":"Pakistan","g":"PK3","r":"5% - 10%","d":126,"v":265083},{"c":"Pakistan","g":"PK3","r":"5% - 10%","d":131,"v":272000},{"c":"Pakistan","g":"PK3","r":"5% - 10%","d":137,"v":278305},
{"c":"Pakistan","g":"PK4","r":"3% - 5%","d":137,"v":278305},{"c":"Pakistan","g":"PK4","r":"3% - 5%","d":147,"v":284660},{"c":"Pakistan","g":"PK4","r":"3% - 5%","d":157,"v":290445},
{"c":"Pakistan","g":"PK5","r":"1% - 2%","d":157,"v":290445},{"c":"Pakistan","g":"PK5","r":"1% - 2%","d":168,"v":296149},{"c":"Pakistan","g":"PK5","r":"1% - 2%","d":182,"v":302020},
{"c":"Nepal","g":"NP1","r":"5% - 10%","d":0,"v":100},{"c":"Nepal","g":"NP1","r":"5% - 10%","d":5,"v":134},{"c":"Nepal","g":"NP1","r":"5% - 10%","d":10,"v":292},{"c":"Nepal","g":"NP1","r":"5% - 10%","d":15,"v":548},{"c":"Nepal","g":"NP1","r":"5% - 10%","d":20,"v":886},{"c":"Nepal","g":"NP1","r":"5% - 10%","d":25,"v":1811},{"c":"Nepal","g":"NP1","r":"5% - 10%","d":30,"v":3235},{"c":"Nepal","g":"NP1","r":"5% - 10%","d":35,"v":4614},{"c":"Nepal","g":"NP1","r":"5% - 10%","d":40,"v":6591},{"c":"Nepal","g":"NP1","r":"5% - 10%","d":45,"v":9026},
{"c":"Nepal","g":"NP2","r":"3% - 5%","d":45,"v":9026},{"c":"Nepal","g":"NP2","r":"3% - 5%","d":50,"v":11755},{"c":"Nepal","g":"NP2","r":"3% - 5%","d":55,"v":13564},{"c":"Nepal","g":"NP2","r":"3% - 5%","d":60,"v":15964},{"c":"Nepal","g":"NP2","r":"3% - 5%","d":65,"v":16801},{"c":"Nepal","g":"NP2","r":"3% - 5%","d":70,"v":17344},{"c":"Nepal","g":"NP2","r":"3% - 5%","d":75,"v":17994},{"c":"Nepal","g":"NP2","r":"3% - 5%","d":80,"v":18752},{"c":"Nepal","g":"NP2","r":"3% - 5%","d":85,"v":20086},{"c":"Nepal","g":"NP2","r":"3% - 5%","d":90,"v":21750},{"c":"Nepal","g":"NP2","r":"3% - 5%","d":95,"v":23948},{"c":"Nepal","g":"NP2","r":"3% - 5%","d":100,"v":26660},
{"c":"Nepal","g":"NP3","r":"5% - 10%","d":100,"v":26660},{"c":"Nepal","g":"NP3","r":"5% - 10%","d":105,"v":30483},{"c":"Nepal","g":"NP3","r":"5% - 10%","d":110,"v":34417},{"c":"Nepal","g":"NP3","r":"5% - 10%","d":115,"v":38561},
{"c":"Nepal","g":"NP4","r":"10% - 20%","d":115,"v":38561},{"c":"Nepal","g":"NP4","r":"10% - 20%","d":120,"v":43000},{"c":"Nepal","g":"NP4","r":"10% - 20%","d":125,"v":48138},{"c":"Nepal","g":"NP4","r":"10% - 20%","d":130,"v":55000},
{"c":"Afghanistan","g":"AF1","r":"no testing data","d":0,"v":106},{"c":"Afghanistan","g":"AF1","r":"no testing data","d":5,"v":192},{"c":"Afghanistan","g":"AF1","r":"no testing data","d":10,"v":367},{"c":"Afghanistan","g":"AF1","r":"no testing data","d":15,"v":555},{"c":"Afghanistan","g":"AF1","r":"no testing data","d":20,"v":840},{"c":"Afghanistan","g":"AF1","r":"no testing data","d":25,"v":1092},{"c":"Afghanistan","g":"AF1","r":"no testing data","d":30,"v":1531},{"c":"Afghanistan","g":"AF1","r":"no testing data","d":35,"v":2335},{"c":"Afghanistan","g":"AF1","r":"no testing data","d":40,"v":3392},{"c":"Afghanistan","g":"AF1","r":"no testing data","d":45,"v":4687},{"c":"Afghanistan","g":"AF1","r":"no testing data","d":50,"v":6402},{"c":"Afghanistan","g":"AF1","r":"no testing data","d":55,"v":8676},{"c":"Afghanistan","g":"AF1","r":"no testing data","d":60,"v":11173},{"c":"Afghanistan","g":"AF1","r":"no testing data","d":65,"v":15205},{"c":"Afghanistan","g":"AF1","r":"no testing data","d":70,"v":18969},{"c":"Afghanistan","g":"AF1","r":"no testing data","d":75,"v":22142},{"c":"Afghanistan","g":"AF1","r":"no testing data","d":80,"v":25527},{"c":"Afghanistan","g":"AF1","r":"no testing data","d":85,"v":28424},{"c":"Afghanistan","g":"AF1","r":"no testing data","d":90,"v":30175},{"c":"Afghanistan","g":"AF1","r":"no testing data","d":95,"v":31507},{"c":"Afghanistan","g":"AF1","r":"no testing data","d":105,"v":33908},{"c":"Afghanistan","g":"AF1","r":"no testing data","d":115,"v":35526},{"c":"Afghanistan","g":"AF1","r":"no testing data","d":126,"v":36747},{"c":"Afghanistan","g":"AF1","r":"no testing data","d":136,"v":37162},{"c":"Afghanistan","g":"AF1","r":"no testing data","d":146,"v":37750},{"c":"Afghanistan","g":"AF1","r":"no testing data","d":157,"v":38196},{"c":"Afghanistan","g":"AF1","r":"no testing data","d":171,"v":38716},
{"c":"Maldives","g":"MV1","r":"10% - 20%","d":0,"v":108},{"c":"Maldives","g":"MV1","r":"10% - 20%","d":2,"v":140},{"c":"Maldives","g":"MV1","r":"10% - 20%","d":4,"v":180},{"c":"Maldives","g":"MV1","r":"10% - 20%","d":5,"v":300},{"c":"Maldives","g":"MV1","r":"10% - 20%","d":6,"v":450},{"c":"Maldives","g":"MV1","r":"10% - 20%","d":8,"v":520},{"c":"Maldives","g":"MV1","r":"10% - 20%","d":10,"v":560},{"c":"Maldives","g":"MV1","r":"10% - 20%","d":14,"v":650},{"c":"Maldives","g":"MV1","r":"10% - 20%","d":17,"v":800},{"c":"Maldives","g":"MV1","r":"10% - 20%","d":21,"v":946},
{"c":"Maldives","g":"MV2","r":"5% - 10%","d":21,"v":946},{"c":"Maldives","g":"MV2","r":"5% - 10%","d":25,"v":1100},{"c":"Maldives","g":"MV2","r":"5% - 10%","d":30,"v":1300},{"c":"Maldives","g":"MV2","r":"5% - 10%","d":35,"v":1460},{"c":"Maldives","g":"MV2","r":"5% - 10%","d":40,"v":1700},{"c":"Maldives","g":"MV2","r":"5% - 10%","d":45,"v":1870},
{"c":"Maldives","g":"MV3","r":"1% - 2%","d":45,"v":1870},{"c":"Maldives","g":"MV3","r":"1% - 2%","d":50,"v":2070},{"c":"Maldives","g":"MV3","r":"1% - 2%","d":55,"v":2150},{"c":"Maldives","g":"MV3","r":"1% - 2%","d":60,"v":2240},{"c":"Maldives","g":"MV3","r":"1% - 2%","d":65,"v":2330},{"c":"Maldives","g":"MV3","r":"1% - 2%","d":70,"v":2410},{"c":"Maldives","g":"MV3","r":"1% - 2%","d":76,"v":2550},
{"c":"Maldives","g":"MV4","r":"3% - 5%","d":76,"v":2550},{"c":"Maldives","g":"MV4","r":"3% - 5%","d":80,"v":2800},{"c":"Maldives","g":"MV4","r":"3% - 5%","d":85,"v":2950},{"c":"Maldives","g":"MV4","r":"3% - 5%","d":90,"v":3100},{"c":"Maldives","g":"MV4","r":"3% - 5%","d":95,"v":3400},
{"c":"Maldives","g":"MV5","r":"10% - 20%","d":95,"v":3400},{"c":"Maldives","g":"MV5","r":"10% - 20%","d":100,"v":3730},{"c":"Maldives","g":"MV5","r":"10% - 20%","d":105,"v":4200},{"c":"Maldives","g":"MV5","r":"10% - 20%","d":110,"v":4800},{"c":"Maldives","g":"MV5","r":"10% - 20%","d":115,"v":5500},{"c":"Maldives","g":"MV5","r":"10% - 20%","d":120,"v":6300},{"c":"Maldives","g":"MV5","r":"10% - 20%","d":125,"v":7200},{"c":"Maldives","g":"MV5","r":"10% - 20%","d":131,"v":8100},{"c":"Maldives","g":"MV5","r":"10% - 20%","d":136,"v":8650},
{"c":"Maldives","g":"MV6","r":"5% - 10%","d":136,"v":8650},{"c":"Maldives","g":"MV6","r":"5% - 10%","d":141,"v":8960},{"c":"Maldives","g":"MV6","r":"5% - 10%","d":145,"v":9230},
{"c":"Sri Lanka","g":"LK1","r":"1% - 2%","d":0,"v":100},{"c":"Sri Lanka","g":"LK1","r":"1% - 2%","d":5,"v":113},{"c":"Sri Lanka","g":"LK1","r":"1% - 2%","d":10,"v":148},{"c":"Sri Lanka","g":"LK1","r":"1% - 2%","d":15,"v":185},{"c":"Sri Lanka","g":"LK1","r":"1% - 2%","d":20,"v":210},{"c":"Sri Lanka","g":"LK1","r":"1% - 2%","d":25,"v":238},{"c":"Sri Lanka","g":"LK1","r":"1% - 2%","d":30,"v":330},
{"c":"Sri Lanka","g":"LK2","r":"3% - 5%","d":30,"v":330},{"c":"Sri Lanka","g":"LK2","r":"3% - 5%","d":35,"v":523},{"c":"Sri Lanka","g":"LK2","r":"3% - 5%","d":40,"v":705},
{"c":"Sri Lanka","g":"LK3","r":"1% - 2%","d":40,"v":705},{"c":"Sri Lanka","g":"LK3","r":"1% - 2%","d":45,"v":797},{"c":"Sri Lanka","g":"LK3","r":"1% - 2%","d":50,"v":889},{"c":"Sri Lanka","g":"LK3","r":"1% - 2%","d":55,"v":960},{"c":"Sri Lanka","g":"LK3","r":"1% - 2%","d":60,"v":1055},{"c":"Sri Lanka","g":"LK3","r":"1% - 2%","d":63,"v":1182},
{"c":"Sri Lanka","g":"LK4","r":"3% - 5%","d":63,"v":1182},{"c":"Sri Lanka","g":"LK4","r":"3% - 5%","d":65,"v":1430},{"c":"Sri Lanka","g":"LK4","r":"3% - 5%","d":70,"v":1643},{"c":"Sri Lanka","g":"LK4","r":"3% - 5%","d":75,"v":1801},
{"c":"Sri Lanka","g":"LK5","r":"0.1% - 1%","d":75,"v":1801},{"c":"Sri Lanka","g":"LK5","r":"0.1% - 1%","d":80,"v":1877},{"c":"Sri Lanka","g":"LK5","r":"0.1% - 1%","d":85,"v":1924},{"c":"Sri Lanka","g":"LK5","r":"0.1% - 1%","d":90,"v":1950},{"c":"Sri Lanka","g":"LK5","r":"0.1% - 1%","d":100,"v":2054},{"c":"Sri Lanka","g":"LK5","r":"0.1% - 1%","d":105,"v":2100},
{"c":"Sri Lanka","g":"LK6","r":"3% - 5%","d":105,"v":2100},{"c":"Sri Lanka","g":"LK6","r":"3% - 5%","d":108,"v":2500},{"c":"Sri Lanka","g":"LK6","r":"3% - 5%","d":112,"v":2617},
{"c":"Sri Lanka","g":"LK7","r":"0.1% - 1%","d":112,"v":2617},{"c":"Sri Lanka","g":"LK7","r":"0.1% - 1%","d":120,"v":2724},{"c":"Sri Lanka","g":"LK7","r":"0.1% - 1%","d":130,"v":2815},{"c":"Sri Lanka","g":"LK7","r":"0.1% - 1%","d":140,"v":2844},{"c":"Sri Lanka","g":"LK7","r":"0.1% - 1%","d":150,"v":2907},{"c":"Sri Lanka","g":"LK7","r":"0.1% - 1%","d":160,"v":3012},{"c":"Sri Lanka","g":"LK7","r":"0.1% - 1%","d":170,"v":3204},{"c":"Sri Lanka","g":"LK7","r":"0.1% - 1%","d":175,"v":3250},
{"c":"Bhutan","g":"BT1","r":"no testing data","d":0,"v":100},{"c":"Bhutan","g":"BT1","r":"no testing data","d":5,"v":108},{"c":"Bhutan","g":"BT1","r":"no testing data","d":10,"v":118},{"c":"Bhutan","g":"BT1","r":"no testing data","d":14,"v":128},{"c":"Bhutan","g":"BT1","r":"no testing data","d":20,"v":150},{"c":"Bhutan","g":"BT1","r":"no testing data","d":25,"v":170},{"c":"Bhutan","g":"BT1","r":"no testing data","d":28,"v":195},{"c":"Bhutan","g":"BT1","r":"no testing data","d":31,"v":225},{"c":"Bhutan","g":"BT1","r":"no testing data","d":35,"v":232},{"c":"Bhutan","g":"BT1","r":"no testing data","d":41,"v":238},{"c":"Bhutan","g":"BT1","r":"no testing data","d":47,"v":243}
],
"ends":[
{"c":"India","r":"5% - 10%","d":183,"v":4850000},
{"c":"Bangladesh","r":"10% - 20%","d":161,"v":339000},
{"c":"Pakistan","r":"1% - 2%","d":182,"v":302020},
{"c":"Nepal","r":"10% - 20%","d":130,"v":55000},
{"c":"Afghanistan","r":"no testing data","d":171,"v":38716},
{"c":"Maldives","r":"5% - 10%","d":145,"v":9230},
{"c":"Sri Lanka","r":"0.1% - 1%","d":175,"v":3250},
{"c":"Bhutan","r":"no testing data","d":47,"v":243}
]
},
"layer":[
{"data":{"name":"bg"},
 "mark":{"type":"line","stroke":"#e2e2e2","strokeWidth":1},
 "encoding":{
  "x":{"field":"d","type":"quantitative","scale":{"domain":[0,237],"nice":false,"zero":false},
   "axis":{"values":[0,50,100,150,200],"labelPadding":8,"labelFlush":false,"title":"Days since the 100th confirmed case","titleFontSize":11,"titleFontWeight":"bold","titleColor":"#333","titleX":252,"titleY":36,"titleAlign":"center","titleBaseline":"middle"}},
  "y":{"field":"v","type":"quantitative","scale":{"type":"log","domain":[100,6620000],"nice":false},
   "axis":{"values":[100,1000,10000,100000,1000000],"labelExpr":"datum.value >= 1000000 ? '1 million' : format(datum.value, ',')","labelPadding":5,"title":"Cumulative confirmed COVID-19 cases","titleFontSize":12,"titleFontWeight":"normal","titleColor":"#444","titleX":-75,"titleY":219,"titleAngle":-90,"titleAlign":"center","titleBaseline":"middle"}},
  "detail":{"field":"s"},
  "order":{"field":"d","type":"quantitative"}
 }},
{"data":{"name":"hl"},
 "mark":{"type":"line","strokeWidth":1.8},
 "encoding":{
  "x":{"field":"d","type":"quantitative"},
  "y":{"field":"v","type":"quantitative"},
  "detail":{"field":"g"},
  "order":{"field":"d","type":"quantitative"},
  "color":{"field":"r","type":"nominal",
   "scale":{"domain":["<0.1% of tests","0.1% - 1%","1% - 2%","2% - 3%","3% - 5%","5% - 10%","10% - 20%","more than 20%","no testing data"],
            "range":["#e2e2e2","#253a5e","#3f69ad","#8ba8d9","#f7b36b","#ee8533","#e6302a","#b2141b","#a3a3a3"]},
   "legend":{"title":"Positive rate",
     "encode":{
      "symbols":{"update":{"fill":{"scale":"color","field":"value"},"stroke":{"value":"transparent"},"strokeWidth":{"value":0},"opacity":{"signal":"datum.value === '<0.1% of tests' ? 0.45 : 1"}}},
      "labels":{"update":{"opacity":{"signal":"datum.value === '<0.1% of tests' ? 0.3 : 1"}}}}}}
 }},
{"data":{"name":"ends"},
 "mark":{"type":"point","shape":"triangle-right","filled":true,"size":28,"opacity":1},
 "encoding":{
  "x":{"field":"d","type":"quantitative"},
  "y":{"field":"v","type":"quantitative"},
  "color":{"field":"r","type":"nominal","legend":null}
 }},
{"data":{"name":"ends"},
 "mark":{"type":"text","align":"left","baseline":"middle","dx":5,"dy":-4,"font":"Liberation Sans","fontSize":12,"fontWeight":"bold"},
 "encoding":{
  "x":{"field":"d","type":"quantitative"},
  "y":{"field":"v","type":"quantitative"},
  "text":{"field":"c"},
  "color":{"field":"r","type":"nominal","legend":null}
 }},
{"data":{"values":[{}]},
 "mark":{"type":"text","text":"Cumulative confirmed COVID-19 cases","font":"Liberation Serif","fontSize":26,"color":"#4a4a4a","align":"left","baseline":"alphabetic"},
 "encoding":{"x":{"datum":-33.857,"type":"quantitative"},"y":{"datum":19474000,"type":"quantitative"}}},
{"data":{"values":[{}]},
 "mark":{"type":"text","text":"The number of confirmed cases is lower than the number of actual cases; the main reason for that is limited testing.","font":"Liberation Sans","fontSize":13.8,"color":"#6a6a6a","align":"left","baseline":"alphabetic"},
 "encoding":{"x":{"datum":-33.857,"type":"quantitative"},"y":{"datum":12020000,"type":"quantitative"}}},
{"data":{"values":[{}]},
 "mark":{"type":"text","text":["Source: European CDC – Situation Update Worldwide – Last updated 14 September, 10:06 (London time), Official data collated by Our World in","Data","CC BY"],"font":"Liberation Sans","fontSize":12,"lineHeight":13.5,"color":"#9a9a9a","align":"left","baseline":"alphabetic"},
 "encoding":{"x":{"datum":-33.857,"type":"quantitative"},"y":{"datum":14.508,"type":"quantitative"}}},
{"data":{"values":[{}]},
 "mark":{"type":"rect","fill":"#0f2a52"},
 "encoding":{"x":{"datum":262.70,"type":"quantitative"},"x2":{"datum":287.58},"y":{"datum":37413000,"type":"quantitative"},"y2":{"datum":13847000}}},
{"data":{"values":[{}]},
 "mark":{"type":"rect","fill":"#d42b21"},
 "encoding":{"x":{"datum":262.70,"type":"quantitative"},"x2":{"datum":287.58},"y":{"datum":15295000,"type":"quantitative"},"y2":{"datum":13847000}}},
{"data":{"values":[{}]},
 "mark":{"type":"text","text":"Our World","font":"Lato","fontSize":10.5,"color":"white","align":"center","baseline":"middle"},
 "encoding":{"x":{"datum":275.14,"type":"quantitative"},"y":{"datum":28160000,"type":"quantitative"}}},
{"data":{"values":[{}]},
 "mark":{"type":"text","text":"in Data","font":"Lato","fontSize":10.5,"color":"white","align":"center","baseline":"middle"},
 "encoding":{"x":{"datum":275.14,"type":"quantitative"},"y":{"datum":20035000,"type":"quantitative"}}},
{"data":{"values":[{}]},
 "mark":{"type":"rule","color":"#e0e0e0","strokeWidth":1},
 "encoding":{"x":{"datum":248.83,"type":"quantitative"},"x2":{"datum":287.99},"y":{"datum":47380,"type":"quantitative"}}},
{"data":{"values":[{}]},
 "mark":{"type":"text","text":["Jan","19,","2020"],"font":"Liberation Sans","fontSize":11,"lineHeight":12.5,"color":"#555","align":"left","baseline":"top"},
 "encoding":{"x":{"datum":248.83,"type":"quantitative"},"y":{"datum":38840,"type":"quantitative"}}},
{"data":{"values":[{}]},
 "mark":{"type":"text","text":"•–•–•–•▸","font":"DejaVu Sans","fontSize":9,"color":"#555","align":"left","baseline":"middle"},
 "encoding":{"x":{"datum":260.66,"type":"quantitative"},"y":{"datum":23290,"type":"quantitative"}}},
{"data":{"values":[{}]},
 "mark":{"type":"text","text":["Sep","15,","2020"],"font":"Liberation Sans","fontSize":11,"lineHeight":12.5,"color":"#555","align":"left","baseline":"top"},
 "encoding":{"x":{"datum":276.57,"type":"quantitative"},"y":{"datum":38840,"type":"quantitative"}}}
]
}
